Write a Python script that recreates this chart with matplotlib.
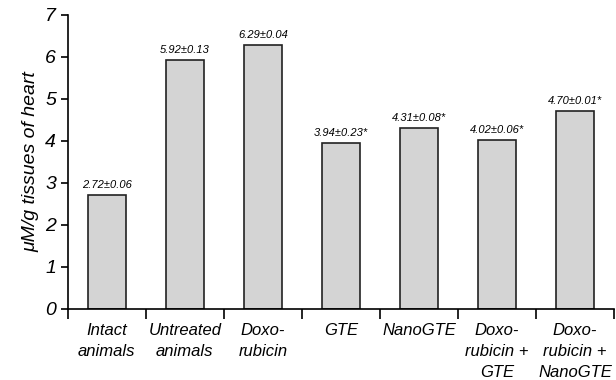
import matplotlib.pyplot as plt

groups = ["Intact\nanimals", "Untreated\nanimals", "Doxo-\nrubicin", "GTE",
          "NanoGTE", "Doxo-\nrubicin +\nGTE", "Doxo-\nrubicin +\nNanoGTE"]
means = [2.72, 5.92, 6.29, 3.94, 4.31, 4.02, 4.70]
errors = [0.06, 0.13, 0.04, 0.23, 0.08, 0.06, 0.01]
significant = [False, False, False, True, True, True, True]

plt.rcParams['font.family'] = ['Liberation Sans Narrow', 'Liberation Sans', 'DejaVu Sans']
plt.rcParams['font.style'] = 'italic'

fig = plt.figure(figsize=(6.16, 3.80), dpi=100)
ax = fig.add_axes([0.110, 0.187, 0.887, 0.774])

x = range(len(groups))
bars = ax.bar(x, means, width=0.49, color='#d4d4d4', edgecolor='#222222', linewidth=1.2)

for xi, m, e, s in zip(x, means, errors, significant):
    txt = f"{m:.2f}±{e:.2f}" + ("*" if s else "")
    ax.text(xi, m + 0.12, txt, ha='center', va='bottom', fontsize=8, style='italic')

ax.set_xlim(-0.5, len(groups) - 0.5)
ax.set_ylim(0, 7)
ax.set_yticks(range(8))
ax.tick_params(axis='y', labelsize=14, length=5, width=1.2, direction='out')

# ticks sit on the group boundaries, labels at the centres
ax.set_xticks([i - 0.5 for i in range(len(groups) + 1)])
ax.set_xticklabels([])
ax.set_xticks(list(x), minor=True)
ax.set_xticklabels(groups, minor=True, fontsize=12, linespacing=1.5)
ax.tick_params(axis='x', which='minor', length=0, pad=10)
ax.tick_params(axis='x', which='major', length=7, width=1.2, direction='out')

ax.set_ylabel("μM/g tissues of heart", fontsize=14, style='italic', labelpad=4)

for side in ['top', 'right']:
    ax.spines[side].set_visible(False)
for side in ['left', 'bottom']:
    ax.spines[side].set_linewidth(1.2)

fig.savefig('out.png', dpi=100)
